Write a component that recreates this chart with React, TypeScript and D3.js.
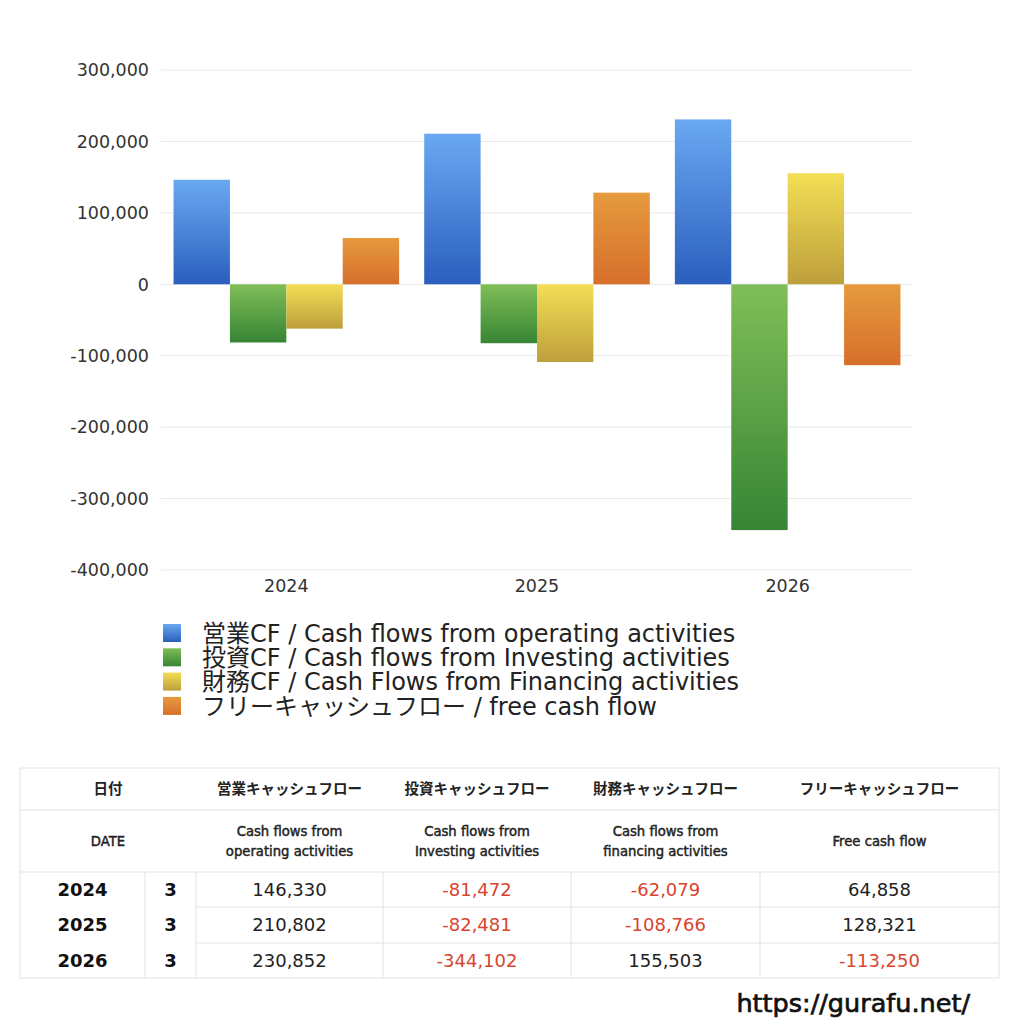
import { useMemo } from "react";
import * as d3 from "d3";

const years = ["2024", "2025", "2026"];
const months = ["3", "3", "3"];
const seriesKeys = ["op", "inv", "fin", "free"];
const legendLabels = [
  "営業CF / Cash flows from operating activities",
  "投資CF / Cash flows from Investing activities",
  "財務CF / Cash Flows from Financing activities",
  "フリーキャッシュフロー / free cash flow",
];
const operating = [146330, 210802, 230852];
const investing = [-81472, -82481, -344102];
const financing = [-62079, -108766, 155503];
const freeCash = [64858, 128321, -113250];
const yTicks = [300000, 200000, 100000, 0, -100000, -200000, -300000, -400000];
const headerJa = ["日付", "営業キャッシュフロー", "投資キャッシュフロー", "財務キャッシュフロー", "フリーキャッシュフロー"];
const headerEn = [
  ["DATE"],
  ["Cash flows from", "operating activities"],
  ["Cash flows from", "Investing activities"],
  ["Cash flows from", "financing activities"],
  ["Free cash flow"],
];

const FONT = "'DejaVu Sans', 'Noto Sans CJK JP', sans-serif";
const JA_FONT = "'Noto Sans CJK JP', sans-serif";
const PLOT = { left: 161, right: 913, top: 70, bottom: 570 };

// gradient stops per series: [top, bottom]
const GRADS: Record<string, [string, string]> = {
  op: ["#6aa8f2", "#2a5fbd"],
  inv: ["#80be58", "#378535"],
  fin: ["#f4de55", "#bd9f3c"],
  free: ["#e69a3e", "#d66f2b"],
};

// table column edges
const COLS = [20, 196, 383, 571, 760, 999];
const YEAR_SPLIT = 145;
const ROWS = { top: 768, h1: 810, h2: 872, data: [872, 907, 943, 978] };
const BORDER = "#e3e3e3";

// plain hyphen minus like the original
const fmt = (v: number) => d3.format(",")(v).replace("\u2212", "-");

export default function App() {
  const seriesValues = [operating, investing, financing, freeCash];

  const x0 = useMemo(
    () =>
      d3
        .scaleBand<string>()
        .domain(years)
        .range([PLOT.left, PLOT.right])
        .paddingInner(0.1)
        .paddingOuter(0.05),
    []
  );
  const x1 = useMemo(
    () => d3.scaleBand<string>().domain(seriesKeys).range([0, x0.bandwidth()]),
    [x0]
  );
  const y = useMemo(
    () => d3.scaleLinear().domain([-400000, 300000]).range([PLOT.bottom, PLOT.top]),
    []
  );

  const bars = years.flatMap((yr, i) =>
    seriesKeys.map((k, s) => ({ yr, key: k, value: seriesValues[s][i] }))
  );

  return (
    <svg
      width={1024}
      height={1024}
      style={{ position: "absolute", left: 0, top: 0, background: "#fff" }}
      fontFamily={FONT}
    >
      <defs>
        {seriesKeys.map((k) => (
          <linearGradient key={k} id={`g-${k}`} x1="0" y1="0" x2="0" y2="1">
            <stop offset="0%" stopColor={GRADS[k][0]} />
            <stop offset="100%" stopColor={GRADS[k][1]} />
          </linearGradient>
        ))}
      </defs>

      {/* grid + y axis */}
      {yTicks.map((t) => (
        <g key={t}>
          <line
            x1={PLOT.left}
            x2={PLOT.right}
            y1={y(t)}
            y2={y(t)}
            stroke="#e9e9e9"
            strokeWidth={1}
          />
          <text
            x={149}
            y={y(t)}
            dy="0.36em"
            textAnchor="end"
            fontSize={17.5}
            fill="#333"
          >
            {fmt(t)}
          </text>
        </g>
      ))}

      {/* bars */}
      {bars.map((b) => (
        <rect
          key={b.yr + b.key}
          x={(x0(b.yr) ?? 0) + (x1(b.key) ?? 0)}
          width={x1.bandwidth()}
          y={y(Math.max(0, b.value))}
          height={Math.abs(y(b.value) - y(0))}
          fill={`url(#g-${b.key})`}
        />
      ))}

      {/* x labels */}
      {years.map((yr) => (
        <text
          key={yr}
          x={(x0(yr) ?? 0) + x0.bandwidth() / 2}
          y={586}
          dy="0.36em"
          textAnchor="middle"
          fontSize={17.5}
          fill="#333"
        >
          {yr}
        </text>
      ))}

      {/* legend */}
      {legendLabels.map((lab, i) => (
        <g key={lab} transform={`translate(163, ${624 + i * 24.3})`}>
          <rect width={18} height={18} fill={`url(#g-${seriesKeys[i]})`} />
          <text x={39} y={9} dy="0.36em" fontSize={24} fill="#222">
            {lab}
          </text>
        </g>
      ))}

      {/* table */}
      <g>
        <rect
          x={COLS[0]}
          y={ROWS.top}
          width={COLS[5] - COLS[0]}
          height={ROWS.data[3] - ROWS.top}
          fill="none"
          stroke={BORDER}
        />
        <line x1={COLS[0]} x2={COLS[5]} y1={ROWS.h1} y2={ROWS.h1} stroke={BORDER} />
        <line x1={COLS[0]} x2={COLS[5]} y1={ROWS.h2} y2={ROWS.h2} stroke={BORDER} />
        {ROWS.data.slice(1, 3).map((ry) => (
          <line key={ry} x1={COLS[1]} x2={COLS[5]} y1={ry} y2={ry} stroke={BORDER} />
        ))}
        {[YEAR_SPLIT, ...COLS.slice(1, 5)].map((cx) => (
          <line
            key={cx}
            x1={cx}
            x2={cx}
            y1={ROWS.data[0]}
            y2={ROWS.data[3]}
            stroke={BORDER}
          />
        ))}
        {headerJa.map((h, c) => (
          <text
            key={h}
            x={(COLS[c] + COLS[c + 1]) / 2}
            y={(ROWS.top + ROWS.h1) / 2}
            dy="0.36em"
            textAnchor="middle"
            fontSize={14.5}
            fontWeight={700}
            fontFamily={JA_FONT}
            fill="#222"
          >
            {h}
          </text>
        ))}
        {headerEn.map((lines, c) =>
          lines.map((ln, li) => (
            <text
              key={ln + c}
              x={(COLS[c] + COLS[c + 1]) / 2}
              y={(ROWS.h1 + ROWS.h2) / 2 + (li - (lines.length - 1) / 2) * 20}
              dy="0.36em"
              textAnchor="middle"
              fontSize={13.2}
              fill="#222"
              stroke="#222"
              strokeWidth={0.45}
            >
              {ln}
            </text>
          ))
        )}
        {years.map((yr, r) => {
          const cy = (ROWS.data[r] + ROWS.data[r + 1]) / 2;
          return (
            <g key={yr}>
              <text
                x={(COLS[0] + YEAR_SPLIT) / 2}
                y={cy}
                dy="0.36em"
                textAnchor="middle"
                fontSize={18}
                fontWeight={700}
                fill="#111"
              >
                {yr}
              </text>
              <text
                x={(YEAR_SPLIT + COLS[1]) / 2}
                y={cy}
                dy="0.36em"
                textAnchor="middle"
                fontSize={18}
                fontWeight={700}
                fill="#111"
              >
                {months[r]}
              </text>
              {seriesValues.map((vals, c) => (
                <text
                  key={c}
                  x={(COLS[c + 1] + COLS[c + 2]) / 2}
                  y={cy}
                  dy="0.36em"
                  textAnchor="middle"
                  fontSize={18}
                  fill={vals[r] < 0 ? "#d9442f" : "#222"}
                >
                  {fmt(vals[r])}
                </text>
              ))}
            </g>
          );
        })}
      </g>

      <text
        x={970}
        y={1003}
        dy="0.36em"
        textAnchor="end"
        fontSize={25.5}
        fill="#111"
        stroke="#111"
        strokeWidth={0.7}
      >
        https://gurafu.net/
      </text>
    </svg>
  );
}
